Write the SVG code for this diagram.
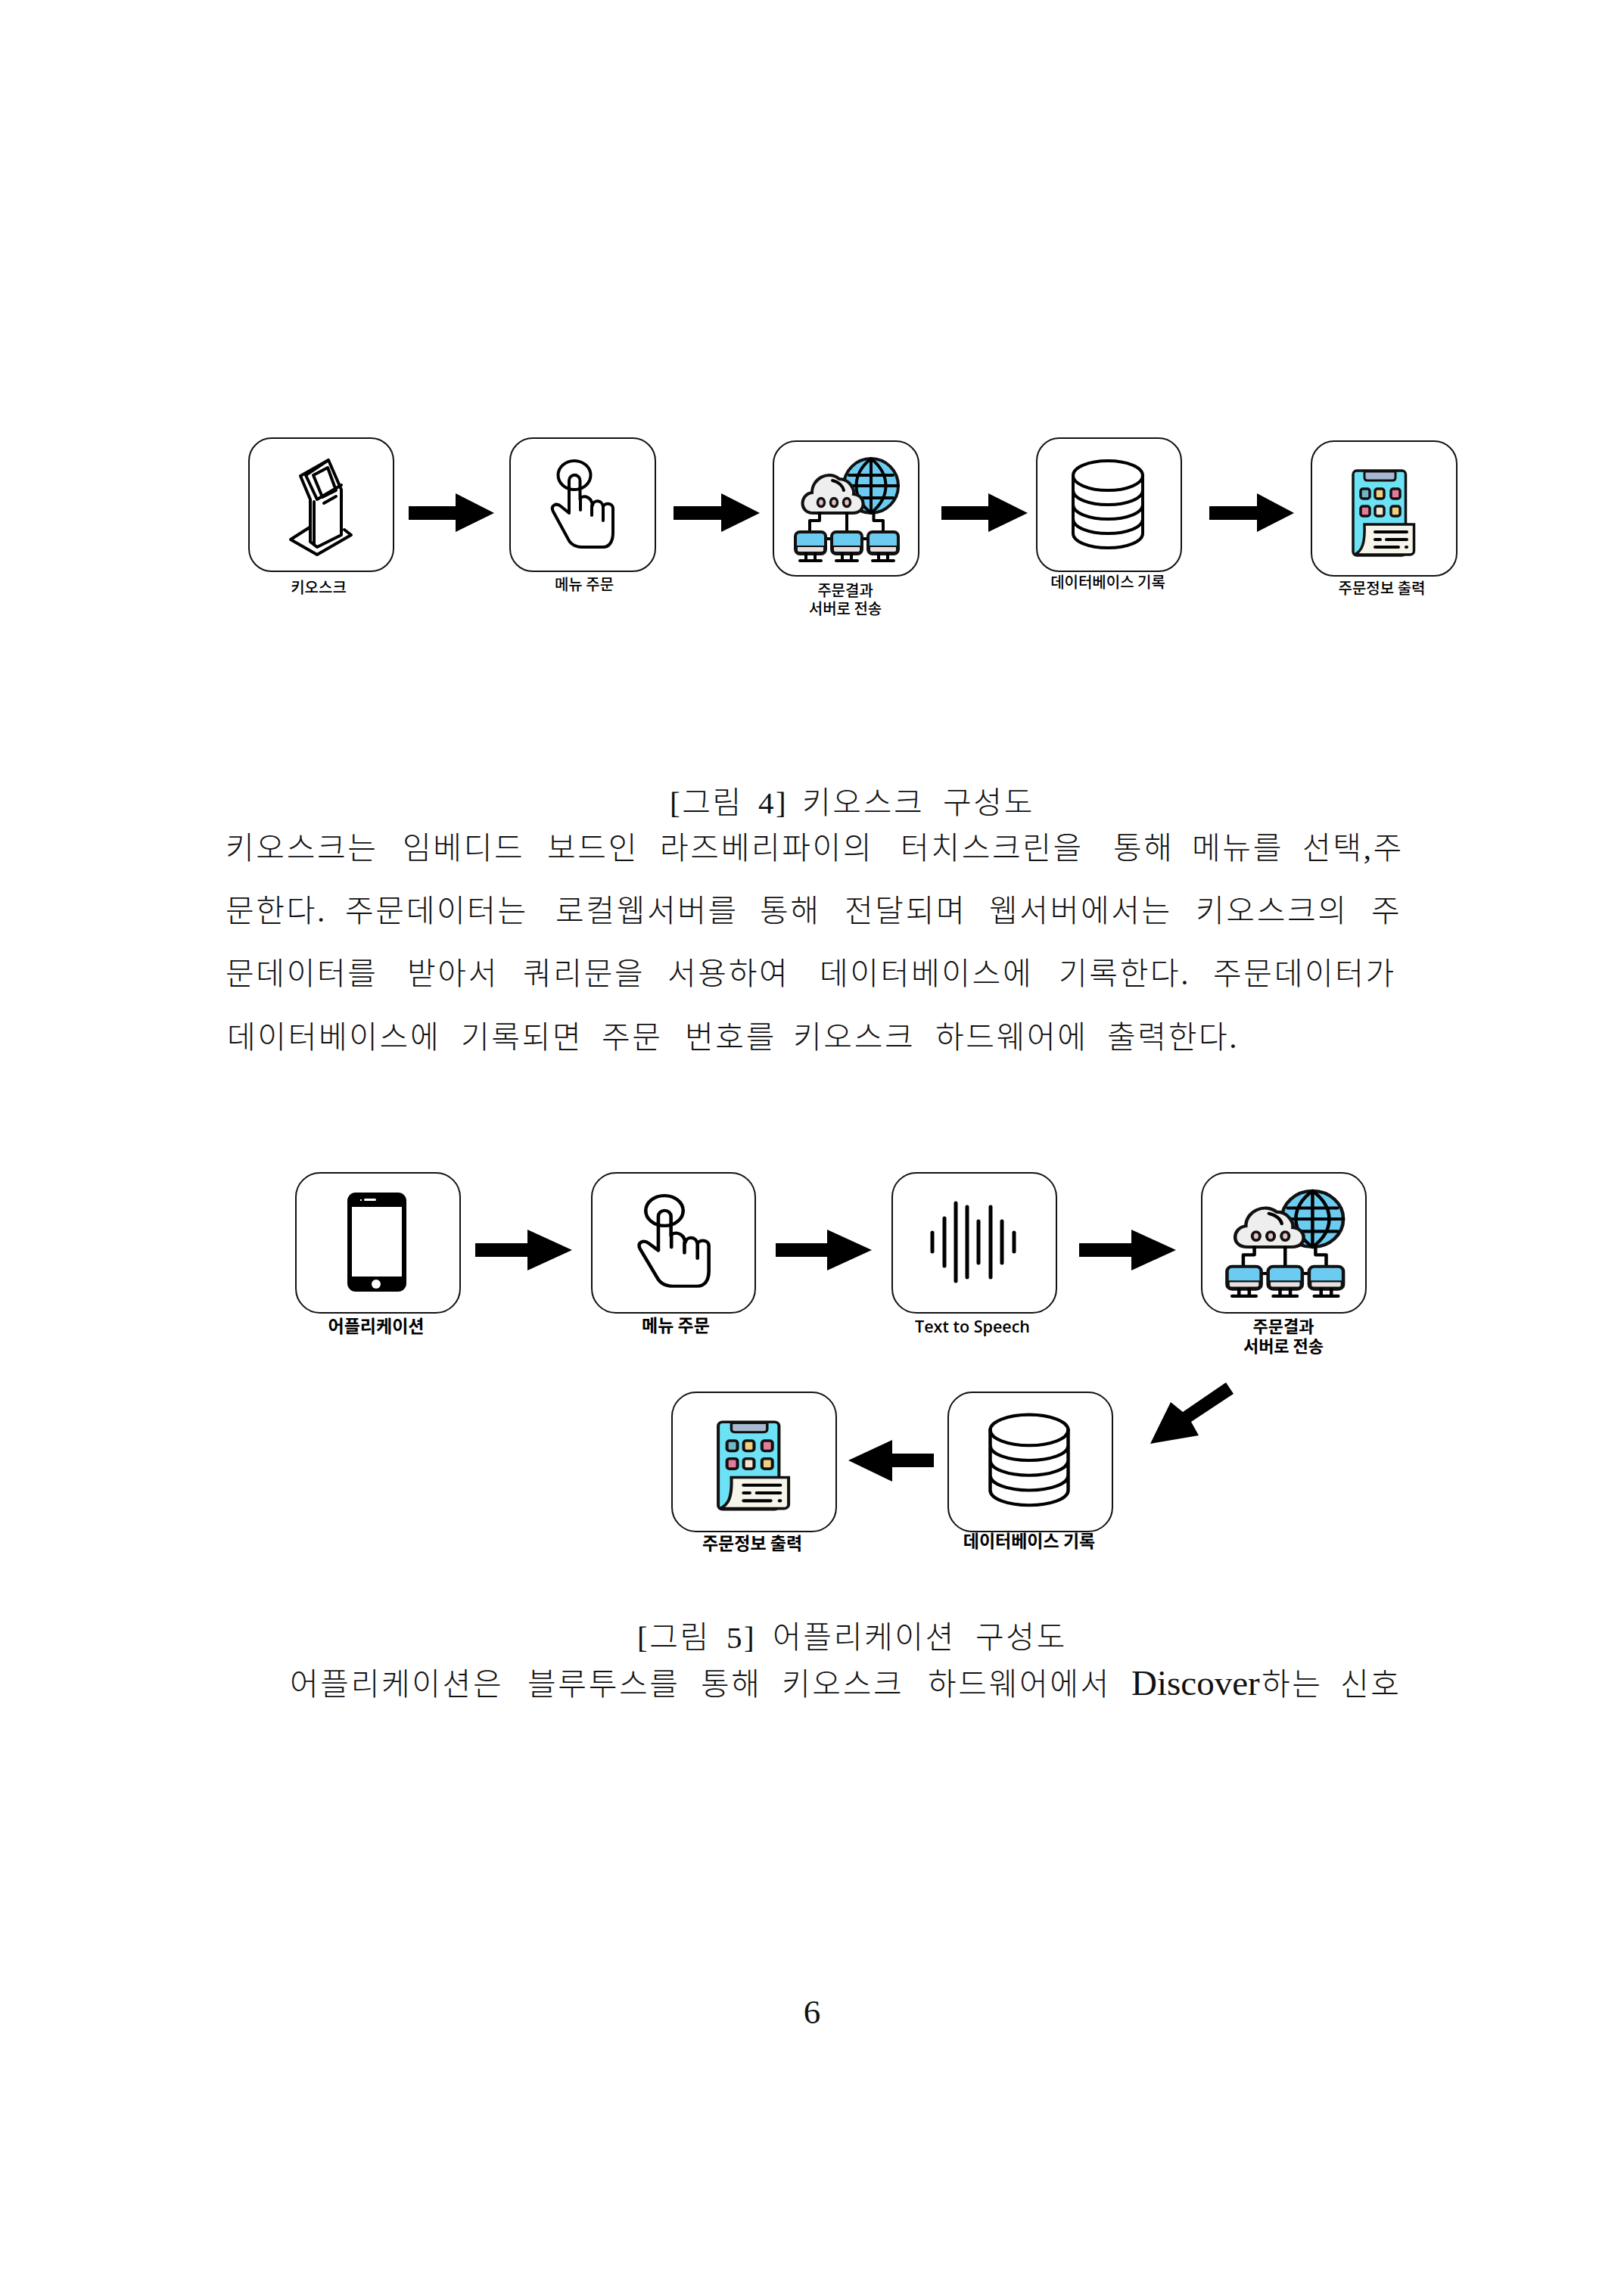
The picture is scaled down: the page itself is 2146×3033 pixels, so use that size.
<svg xmlns="http://www.w3.org/2000/svg" width="2146" height="3033" viewBox="0 0 2146 3033">
<style>
text{fill:#000;font-family:"Noto Sans CJK KR","Liberation Sans",sans-serif}
.b{font-family:"Liberation Serif","Noto Sans CJK KR",serif;font-size:41px;fill:#111;font-weight:300;letter-spacing:2.6px}
.e{font-family:"Liberation Serif",serif;font-size:47px;letter-spacing:0}
.l{font-size:20px;text-anchor:middle;font-weight:500}
.m{font-size:23px;text-anchor:middle;font-weight:700}
.s{font-size:22px}
.n{fill:#fff;stroke:#111;stroke-width:2}
.a{fill:#000}
.k{fill:none;stroke:#000;stroke-width:4;stroke-linejoin:round;stroke-linecap:round}
.d{stroke:#111;stroke-width:3.5}
</style>
<defs>
<g id="hand">
<ellipse cx="0" cy="-40" rx="21.500" ry="19" class="k"/>
<path class="k" d="M-7 10V-33a7.2 7.2 0 0 1 14.500 0V-8C9-14 22-14 24 0C25-8 37-8 38 2C39-4 51-4 51 4V36C51 48 46 55 38 55H10C0 55-6 50-9 43L-28 8C-32 0-24-4-18 1ZM8-8V6M23 0V13M38 2V20"/>
</g>
<g id="db" class="k">
<ellipse cx="0" cy="-38.500" rx="46" ry="19.500"/>
<path d="M-46-38.500V38C-46 49-25 57 0 57S46 49 46 38V-38.500M-46-19C-46-8-25 0 0 0S46-8 46-19M-46 0C-46 11-25 19 0 19S46 11 46 0M-46 19C-46 30-25 38 0 38S46 30 46 19"/>
</g>
<g id="pc">
<rect x="-20" y="26" width="40" height="29" rx="6" fill="#6ccbf0" stroke="#111" stroke-width="4"/>
<path d="M-18 45H18V50C18 52 16 53 14 53H-14C-16 53-18 52-18 50Z" fill="#e8e0e0" stroke="#111" stroke-width="2"/>
<path d="M-6 55V63M6 55V63" class="k" stroke-width="3"/>
<path d="M-14 64H14" class="k" stroke-width="4"/>
</g>
<g id="net">
<ellipse cx="34" cy="-35" rx="36" ry="36" fill="#6ccbf0" stroke="#111" stroke-width="4"/>
<path class="k" d="M34-71C8-50 8-20 34 1C60-20 60-50 34-71ZM34-71V1M5-49H63M-2-35H70M5-19H63"/>
<path fill="#eee" stroke="#111" stroke-width="4" d="M-42 1C-62 1-60-24-44-26C-44-45-22-56-8-44C6-44 12-30 11-24C28-22 28 1 10 1Z"/>
<path class="k" d="M-17-42C-8-40-3-34-2-29"/>
<g fill="#e8c0c0" stroke="#111" stroke-width="3.500"><ellipse cx="-32" cy="-13" rx="4.500" ry="5.500"/><ellipse cx="-15" cy="-13" rx="4.500" ry="5.500"/><ellipse cx="2" cy="-13" rx="4.500" ry="5.500"/></g>
<path class="k" d="M-34 1V11H-47V26M2 1V26M37.500 1V11H50V26M-26 35H-17M21 35H31"/>
<use href="#pc" x="-46"/><use href="#pc" x="2"/><use href="#pc" x="50"/>
</g>
<g id="tab">
<rect x="-38" y="-56" width="69.500" height="112" rx="5" fill="#6ee2f5" stroke="#111" stroke-width="3.500"/>
<path d="M-23-55V-47C-23-44-21-43-19-43H14C16-43 18-44 18-47V-55Z" fill="#a6b9d0" stroke="#111" stroke-width="3"/>
<g class="d"><rect x="-28" y="-32" width="12" height="13" rx="3" fill="#6fb7c9"/><rect x="-9" y="-32" width="12" height="13" rx="3" fill="#f0d080"/><rect x="12" y="-32" width="12" height="13" rx="3" fill="#e67a9a"/><rect x="-28" y="-9" width="12" height="13" rx="3" fill="#e67a9a"/><rect x="-9" y="-9" width="12" height="13" rx="3" fill="#f2e4d0"/><rect x="12" y="-9" width="12" height="13" rx="3" fill="#f0d080"/></g>
<path d="M-23 15H42.500V50C42.500 53 40 55 37 55H-36C-26 50-22 40-23 15Z" fill="#f7f4ea" stroke="#111" stroke-width="3.500"/>
<path class="k" stroke-width="3" d="M-9 25H33M-9 35H-2M6 35H33M-9 45H22M32 45H33"/>
</g>
</defs>

<g id="connectors">
<path id="c1" class="a" d="M540 669H602V652L653 678 602 703V687H540Z"/>
<path id="c2" class="a" d="M890 669H953V652L1004 678 953 703V687H890Z"/>
<path id="c3" class="a" d="M1244 669H1306V652L1358 678 1306 703V687H1244Z"/>
<path id="c4" class="a" d="M1598 669H1661V652L1710 678 1661 703V687H1598Z"/>
<path id="c5" class="a" d="M628 1643H697V1625L756 1652 697 1679V1661H628Z"/>
<path id="c6" class="a" d="M1025 1643H1093V1625L1152 1652 1093 1679V1661H1025Z"/>
<path id="c7" class="a" d="M1426 1643H1495V1625L1554 1652 1495 1679V1661H1426Z"/>
<path id="c8" class="a" d="M1620 1827L1630 1842 1574 1879 1584 1897 1520 1908 1547 1853 1563 1866Z"/>
<path id="c9" class="a" d="M1234 1921H1179V1903L1121 1930 1179 1958V1939H1234Z"/>
</g>

<g id="n1"><rect class="n" x="329" y="579" width="191" height="176" rx="30"/>
<path class="k" stroke-width="3.500" d="M397 629L434 608 451 647V707L419 723 410 716V660ZM404 628L419 660 451 641M404 628L434 608M415 663V720M414 628L433 618 444 648 426 657ZM428 665L444 656M409 697L384 713 419 733 464 707 455 700"/>
<text class="l" x="421" y="784">키오스크</text></g>
<g id="n2"><rect class="n" x="674" y="579" width="192" height="176" rx="30"/><use href="#hand" transform="translate(759 668)"/>
<text class="l" x="772" y="780">메뉴 주문</text></g>
<g id="n3"><rect class="n" x="1022" y="583" width="192" height="178" rx="30"/><use href="#net" transform="translate(1117 677)"/>
<text class="l" x="1117" y="788">주문결과</text><text class="l" x="1117" y="812">서버로 전송</text></g>
<g id="n4"><rect class="n" x="1370" y="579" width="191" height="176" rx="30"/><use href="#db" transform="translate(1464 667)"/>
<text class="l" x="1464" y="777">데이터베이스 기록</text></g>
<g id="n5"><rect class="n" x="1733" y="583" width="192" height="178" rx="30"/><use href="#tab" transform="translate(1826 678)"/>
<text class="l" x="1826" y="785">주문정보 출력</text></g>

<g id="caption4"><text class="b"><tspan x="885" y="1075">[그림</tspan><tspan x="1002" y="1075">4]</tspan><tspan x="1060" y="1075">키오스크</tspan><tspan x="1246" y="1075">구성도</tspan></text></g>
<g id="para1"><text class="b">
<tspan x="298" y="1135">키오스크는</tspan><tspan x="532" y="1135">임베디드</tspan><tspan x="723" y="1135">보드인</tspan><tspan x="872" y="1135">라즈베리파이의</tspan><tspan x="1190" y="1135">터치스크린을</tspan><tspan x="1471" y="1135">통해</tspan><tspan x="1575" y="1135">메뉴를</tspan><tspan x="1721" y="1135">선택,주</tspan>
<tspan x="298" y="1218">문한다.</tspan><tspan x="456" y="1218">주문데이터는</tspan><tspan x="734" y="1218">로컬웹서버를</tspan><tspan x="1004" y="1218">통해</tspan><tspan x="1116" y="1218">전달되며</tspan><tspan x="1307" y="1218">웹서버에서는</tspan><tspan x="1580" y="1218">키오스크의</tspan><tspan x="1812" y="1218">주</tspan>
<tspan x="298" y="1301">문데이터를</tspan><tspan x="538" y="1301">받아서</tspan><tspan x="691" y="1301">쿼리문을</tspan><tspan x="882" y="1301">서용하여</tspan><tspan x="1083" y="1301">데이터베이스에</tspan><tspan x="1399" y="1301">기록한다.</tspan><tspan x="1603" y="1301">주문데이터가</tspan>
<tspan x="300" y="1385">데이터베이스에</tspan><tspan x="609" y="1385">기록되면</tspan><tspan x="795" y="1385">주문</tspan><tspan x="905" y="1385">번호를</tspan><tspan x="1048" y="1385">키오스크</tspan><tspan x="1236" y="1385">하드웨어에</tspan><tspan x="1463" y="1385">출력한다.</tspan>
</text></g>

<g id="m1"><rect class="n" x="391" y="1550" width="217" height="185" rx="32"/>
<rect x="459" y="1576" width="78" height="131" rx="11" fill="#000"/><rect x="465" y="1595" width="66" height="92" fill="#fff"/><rect x="481" y="1584" width="16" height="3" rx="1.500" fill="#fff"/><rect x="476" y="1585" width="2" height="2" fill="#fff"/><ellipse cx="497" cy="1697" rx="6" ry="6" fill="#fff"/>
<text class="m" x="497" y="1761">어플리케이션</text></g>
<g id="m2"><rect class="n" x="782" y="1550" width="216" height="185" rx="32"/><use href="#hand" transform="translate(878 1642) scale(1.150 1.050)"/>
<text class="m" x="893" y="1760">메뉴 주문</text></g>
<g id="m3"><rect class="n" x="1179" y="1550" width="217" height="185" rx="32"/>
<path stroke="#000" stroke-width="5" stroke-linecap="round" fill="none" d="M1232 1629V1654M1248 1610V1673M1263 1590V1693M1278 1595V1688M1293 1614V1669M1309 1595V1688M1324 1614V1669M1340 1629V1654"/>
<text x="1285" y="1761" style="font-family:'Open Sans','Noto Sans',sans-serif;font-size:21.500px;font-weight:600;text-anchor:middle">Text to Speech</text></g>
<g id="m4"><rect class="n" x="1588" y="1550" width="217" height="185" rx="32"/><use href="#net" transform="translate(1696 1647) scale(1.130 1.030)"/>
<text class="m s" x="1696" y="1761">주문결과</text><text class="m s" x="1696" y="1787">서버로 전송</text></g>
<g id="m5"><rect class="n" x="1253" y="1840" width="217" height="184" rx="32"/><use href="#db" transform="translate(1360 1930) scale(1.120 1.040)"/>
<text class="m" x="1360" y="2045">데이터베이스 기록</text></g>
<g id="m6"><rect class="n" x="888" y="1840" width="217" height="184" rx="32"/><use href="#tab" transform="translate(993 1937) scale(1.155 1.030)"/>
<text class="m" x="994" y="2048">주문정보 출력</text></g>

<g id="caption5"><text class="b"><tspan x="842" y="2178">[그림</tspan><tspan x="960" y="2178">5]</tspan><tspan x="1021" y="2178">어플리케이션</tspan><tspan x="1289" y="2178">구성도</tspan></text></g>
<g id="para2"><text class="b"><tspan x="383" y="2240">어플리케이션은</tspan><tspan x="697" y="2240">블루투스를</tspan><tspan x="926" y="2240">통해</tspan><tspan x="1033" y="2240">키오스크</tspan><tspan x="1226" y="2240">하드웨어에서</tspan><tspan x="1495" y="2240" class="e">Discover</tspan><tspan x="1667" y="2240">하는</tspan><tspan x="1771" y="2240">신호</tspan></text></g>
<text id="page" x="1073" y="2674" style="font-family:'Liberation Serif',serif;font-size:45px;text-anchor:middle;fill:#111">6</text>
</svg>
